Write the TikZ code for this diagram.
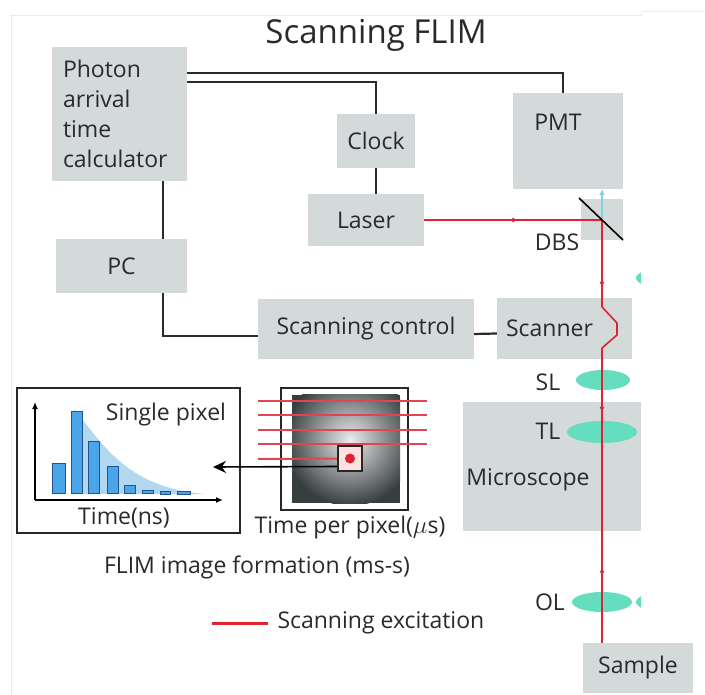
\documentclass[tikz,border=0pt]{standalone}
\usepackage{fontspec}
\setmainfont{Open Sans}
\usetikzlibrary{arrows.meta,decorations.markings}

\definecolor{boxgray}{RGB}{212,217,217}
\definecolor{ink}{RGB}{40,42,44}
\definecolor{beamred}{RGB}{222,35,50}
\definecolor{emitblue}{RGB}{130,210,228}
\definecolor{lensgreen}{RGB}{100,222,190}
\definecolor{barblue}{RGB}{75,165,235}
\definecolor{baredge}{RGB}{35,85,140}
\definecolor{decayblue}{RGB}{178,216,240}
\definecolor{imgdark}{RGB}{55,62,64}
\newcommand\lab{\fontsize{23}{30}\selectfont}

\begin{document}
\begin{tikzpicture}[x=1pt,y=-1pt]
  \tikzstyle{box} = [fill=boxgray, text=ink, font=\lab, inner sep=0pt]
  \tikzstyle{tag} = [text=ink, font=\lab, inner sep=1pt]
  \tikzstyle{wire} = [draw=ink, line width=2.2pt]
  \tikzstyle{beam} = [draw=beamred, line width=1.6pt]
  \tikzstyle{flow} = [postaction={decorate, decoration={markings, mark=at position #1 with {\arrow{Latex[length=6pt,width=5pt]}}}}]
  \tikzstyle{lens} = [fill=lensgreen]
  \tikzstyle{frame} = [draw=black!85, line width=1.7pt, inner sep=0pt]
  \tikzstyle{scan} = [draw=beamred!85, line width=2pt]
  \tikzstyle{bar} = [fill=barblue, draw=baredge, line width=0.9pt]
  \tikzstyle{rim} = [draw=gray!15, line width=0.6pt]
  \useasboundingbox (0,0) rectangle (705,695);
  \fill[white] (0,0) rectangle (705,695);
  \draw[rim] (10,15) -- (641,15) -- (641,11) -- (705,11);
  \draw[rim] (11,15) -- (11,695);

  \draw (376,35) node[text=ink, font=\fontsize{33}{40}\selectfont] (title) {Scanning FLIM};

  % instrument blocks
  \draw (119.5,114) node[box, minimum width=135pt, minimum height=134pt, text width=113pt, inner xsep=11pt, align=left] (calc) {Photon\\arrival\\time\\calculator};
  \draw (376,141) node[box, minimum width=78pt, minimum height=54pt] (clock) {Clock};
  \draw (568,141) node[box, minimum width=110pt, minimum height=96pt, label={[name=pmtlab, tag, xshift=-10pt, yshift=19pt]center:PMT}] (pmt) {};
  \draw (366,220) node[box, minimum width=116pt, minimum height=52pt] (laser) {Laser};
  \draw (602,219.5) node[box, minimum width=42pt, minimum height=41pt] (dbs) {};
  \draw (121.5,266) node[box, minimum width=131pt, minimum height=54pt] (pc) {PC};
  \draw (366,329) node[box, minimum width=216pt, minimum height=60pt] (ctrl) {Scanning control};
  \draw (564.5,328.5) node[box, minimum width=135pt, minimum height=61pt, label={[name=scanlab, tag, xshift=-15pt]center:Scanner}] (scanner) {};
  \draw (552,466.5) node[box, minimum width=178pt, minimum height=129pt, label={[name=microlab, tag, xshift=-24pt, yshift=-13.5pt]center:Microscope}] (micro) {};
  \draw (638,668) node[box, minimum width=110pt, minimum height=50pt] (sample) {Sample};

  % cables
  \draw[wire] ([yshift=-26pt]calc.north east) -| ([xshift=-5pt]pmt.north);
  \draw[wire] ([yshift=-35pt]calc.north east) -| (clock.north);
  \draw[wire] (clock.south) -- (clock.south |- laser.north);
  \draw[wire] ([xshift=-24pt]calc.south east) -- ([xshift=-24pt]pc.north east);
  \draw[wire] ([xshift=-24pt]pc.south east) |- ([yshift=-7pt]ctrl.west);
  \draw[wire] ([yshift=-5pt]ctrl.east) -- ([yshift=-5pt]scanner.west);

  % lenses
  \begin{scope}
    \clip (560,250) rectangle (641,640);
    \fill[lens] (664,278) ellipse [x radius=28, y radius=10];
    \fill[lens] (664,602) ellipse [x radius=28, y radius=10];
  \end{scope}
  \fill[lens] (603,380) ellipse [x radius=27, y radius=10];
  \fill[lens] (602,432) ellipse [x radius=35, y radius=11];
  \fill[lens] (602,602) ellipse [x radius=30, y radius=10];
  \draw (557,242) node[tag] (dbslab) {DBS};
  \draw (548,382) node[tag] (sllab) {SL};
  \draw (548,431) node[tag] (tllab) {TL};
  \draw (550,602) node[tag] (ollab) {OL};

  % light path
  \coordinate (mir) at (602,220);
  \coordinate (jogin) at (602,307);
  \coordinate (jogout) at (602,348);
  \draw[draw=emitblue, line width=2.5pt, -{Latex[length=6pt,width=6pt]}] (mir) -- (mir |- pmt.south);
  \draw[beam, flow=0.53] (laser.east) -- (mir);
  \draw[beam, flow=0.78] (mir) -- (jogin);
  \draw[beam] (jogin) -- (617,323) -- (617,335) -- (jogout);
  \draw[beam, flow=0.22, flow=0.776] (jogout) -- (mir |- sample.north);
  \draw[line width=1.6pt] (579,198) -- (623,240);

  % single pixel histogram
  \draw (128.5,460.5) node[frame, minimum width=223pt, minimum height=145pt] (pixpanel) {};
  \fill[decayblue] (74,409) .. controls (100,440) and (125,488) .. (205,494) -- (74,494) -- cycle;
  \foreach \xa/\xb/\top in {52/65/463, 71/82/411, 88/99/441, 107/118/466, 124/135/485, 142/153/490}
    \draw[bar] (\xa,493) rectangle (\xb,\top);
  \foreach \xa/\xb in {160/170, 177/190}
    \draw[bar] (\xa,491) rectangle (\xb,494);
  \coordinate (orig) at (35,500);
  \draw[line width=1.5pt, -{Latex[length=7pt,width=6pt]}] (orig) -- (35,402);
  \draw[line width=1.5pt, -{Latex[length=7pt,width=6pt]}] (orig) -- (223,500);
  \draw (166,415) node[tag] (single) {Single pixel};
  \draw (124,518) node[tag] (timens) {Time(ns)};

  % scanned image
  \draw (344.5,449) node[frame, minimum width=127pt, minimum height=122pt] (imgframe) {};
  \fill[imgdark] (292,395) rectangle (400,503);
  \begin{scope}
    \clip (292,395) rectangle (400,503);
    \shade[inner color=gray!15, outer color=imgdark] (350,440) circle (66);
  \end{scope}
  \foreach \y in {401,415,430,444}
    \draw[scan] (258,\y) -- (427,\y);
  \draw (350,458.5) node[frame, fill=red!12, minimum width=24pt, minimum height=25pt] (pix) {};
  \fill[beamred] (pix.center) circle (5);
  \draw[scan] (258,459) -- (pix.west);
  \coordinate (hit) at (213,467);
  \draw[line width=1.6pt, -{Stealth[length=13pt,width=12pt]}] ([yshift=-8pt]pix.west) -- (hit);
  \draw (350,528) node[tag] (tpp) {Time per pixel($\mu$s)};
  \draw (257,567) node[tag] (formation) {FLIM image formation (ms-s)};

  % legend
  \coordinate (legA) at (212,623);
  \draw[beamred, line width=3pt] (legA) -- (268,623) node[tag, anchor=west, xshift=7pt] (legtext) {Scanning excitation};
\end{tikzpicture}
\end{document}
